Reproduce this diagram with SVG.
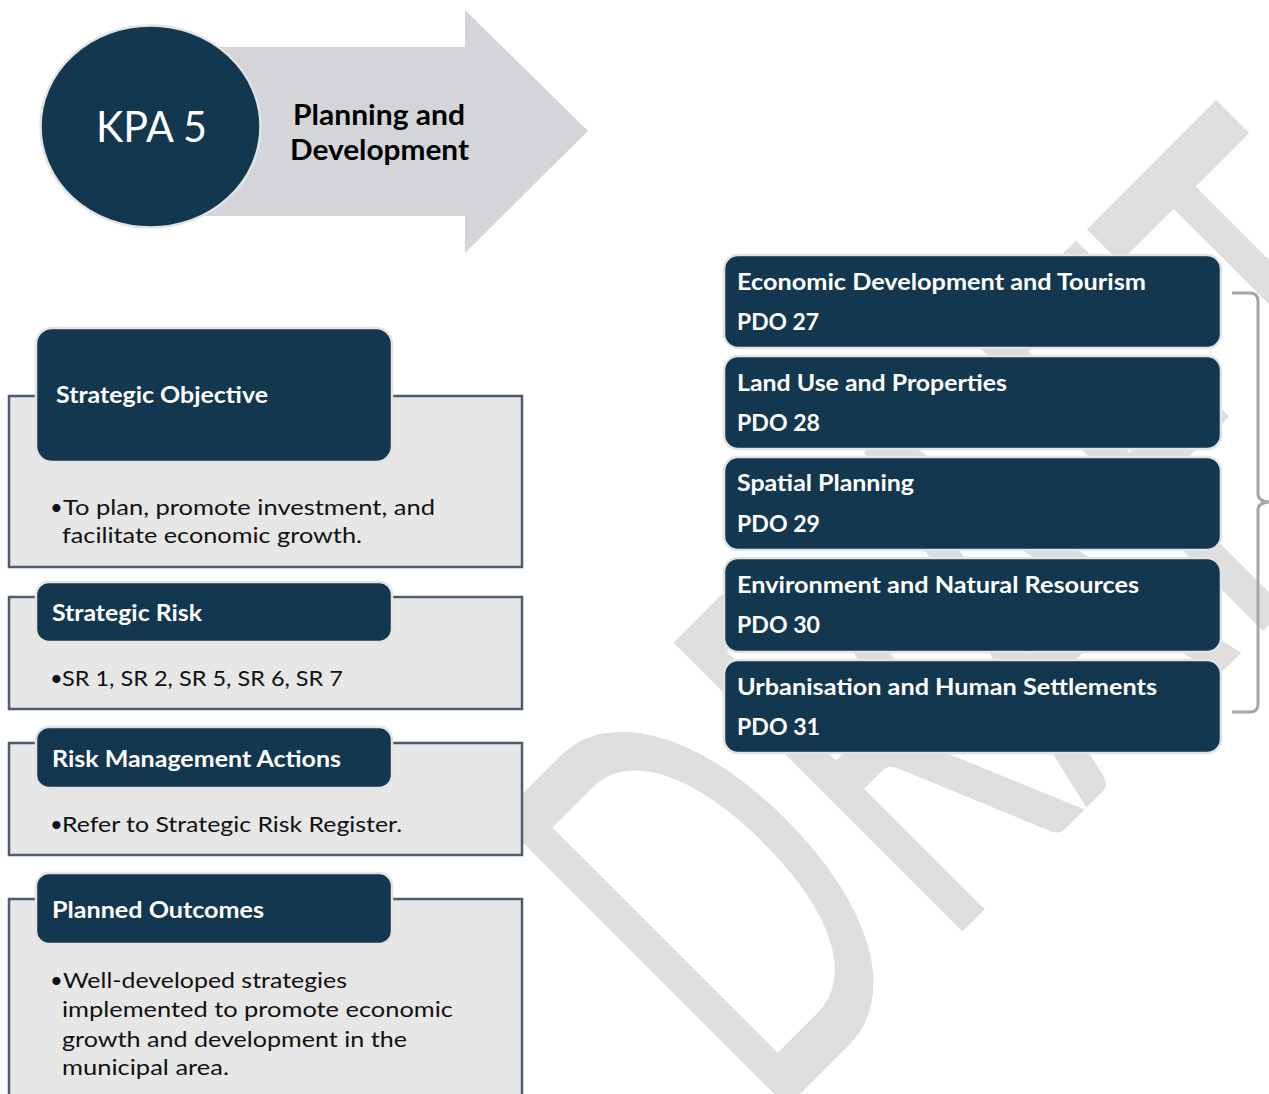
<svg xmlns="http://www.w3.org/2000/svg" width="1269" height="1094" viewBox="0 0 1269 1094">
<style>
  text { font-family: Lato, "Open Sans", "Liberation Sans", sans-serif; }
  .navy { fill: #12374f; stroke: #e3e3e3; stroke-width: 2.5; }
  .panel { fill: #e7e7e7; stroke: #4e5c72; stroke-width: 2.5; }
  .ttl { fill: #ffffff; font-size: 22px; font-weight: 700; }
  .body { fill: #111111; font-size: 22px; font-weight: 400; }
  .wm { fill: #dedede; font-size: 570px; font-weight: 400; }
</style>

<g id="watermark">
  <text class="wm" transform="translate(766,1128) rotate(-45)" x="0" y="0" textLength="1050" lengthAdjust="spacingAndGlyphs">DRAFT</text>
</g>

<g id="kpa-header">
  <path d="M150,47 H465 V10 L588,131 L465,253 V216 H150 Z" fill="#d4d5d9"/>
  <ellipse cx="150.5" cy="126.5" rx="110" ry="101" fill="#12374f" stroke="#e3e3e3" stroke-width="2.5"/>
  <text x="96" y="142" fill="#ffffff" font-size="42" textLength="111" lengthAdjust="spacingAndGlyphs">KPA 5</text>
  <text x="293" y="125" fill="#000000" font-size="28" font-weight="700" textLength="172" lengthAdjust="spacingAndGlyphs">Planning and</text>
  <text x="290" y="160" fill="#000000" font-size="28" font-weight="700" textLength="179" lengthAdjust="spacingAndGlyphs">Development</text>
</g>

<g id="strategic-objective">
  <rect class="panel" x="9" y="396" width="513" height="171"/>
  <rect class="navy" x="36" y="328" width="356" height="134" rx="16"/>
  <text class="ttl" x="56" y="403" textLength="212" lengthAdjust="spacingAndGlyphs">Strategic Objective</text>
  <text class="body" x="50" y="515">•</text>
  <text class="body" x="63" y="515" textLength="372" lengthAdjust="spacingAndGlyphs">To plan, promote investment, and</text>
  <text class="body" x="62" y="543" textLength="300" lengthAdjust="spacingAndGlyphs">facilitate economic growth.</text>
</g>

<g id="strategic-risk">
  <rect class="panel" x="9" y="597" width="513" height="112"/>
  <rect class="navy" x="36" y="582" width="356" height="60" rx="13"/>
  <text class="ttl" x="52" y="621" textLength="150" lengthAdjust="spacingAndGlyphs">Strategic Risk</text>
  <text class="body" x="50" y="686">•</text>
  <text class="body" x="62" y="686" textLength="281" lengthAdjust="spacingAndGlyphs">SR 1, SR 2, SR 5, SR 6, SR 7</text>
</g>

<g id="risk-management-actions">
  <rect class="panel" x="9" y="743" width="513" height="112"/>
  <rect class="navy" x="36" y="727" width="356" height="61" rx="13"/>
  <text class="ttl" x="52" y="767" textLength="289" lengthAdjust="spacingAndGlyphs">Risk Management Actions</text>
  <text class="body" x="50" y="832">•</text>
  <text class="body" x="62" y="832" textLength="340" lengthAdjust="spacingAndGlyphs">Refer to Strategic Risk Register.</text>
</g>

<g id="planned-outcomes">
  <rect class="panel" x="9" y="899" width="513" height="210"/>
  <rect class="navy" x="36" y="873" width="356" height="71" rx="13"/>
  <text class="ttl" x="52" y="918" textLength="212" lengthAdjust="spacingAndGlyphs">Planned Outcomes</text>
  <text class="body" x="50" y="988">•</text>
  <text class="body" x="63" y="988" textLength="284" lengthAdjust="spacingAndGlyphs">Well-developed strategies</text>
  <text class="body" x="62" y="1017" textLength="391" lengthAdjust="spacingAndGlyphs">implemented to promote economic</text>
  <text class="body" x="62" y="1047" textLength="345" lengthAdjust="spacingAndGlyphs">growth and development in the</text>
  <text class="body" x="62" y="1075" textLength="167" lengthAdjust="spacingAndGlyphs">municipal area.</text>
</g>

<g id="pdo-27">
  <rect class="navy" x="724" y="255" width="497" height="93" rx="14"/>
  <text class="ttl" x="737" y="290" textLength="409" lengthAdjust="spacingAndGlyphs">Economic Development and Tourism</text>
  <text class="ttl" x="737" y="330" textLength="82" lengthAdjust="spacingAndGlyphs">PDO 27</text>
</g>
<g id="pdo-28">
  <rect class="navy" x="724" y="356" width="497" height="93" rx="14"/>
  <text class="ttl" x="737" y="391" textLength="270" lengthAdjust="spacingAndGlyphs">Land Use and Properties</text>
  <text class="ttl" x="737" y="431" textLength="83" lengthAdjust="spacingAndGlyphs">PDO 28</text>
</g>
<g id="pdo-29">
  <rect class="navy" x="724" y="457" width="497" height="93" rx="14"/>
  <text class="ttl" x="737" y="491" textLength="177" lengthAdjust="spacingAndGlyphs">Spatial Planning</text>
  <text class="ttl" x="737" y="532" textLength="83" lengthAdjust="spacingAndGlyphs">PDO 29</text>
</g>
<g id="pdo-30">
  <rect class="navy" x="724" y="558" width="497" height="94" rx="14"/>
  <text class="ttl" x="737" y="593" textLength="402" lengthAdjust="spacingAndGlyphs">Environment and Natural Resources</text>
  <text class="ttl" x="737" y="633" textLength="83" lengthAdjust="spacingAndGlyphs">PDO 30</text>
</g>
<g id="pdo-31">
  <rect class="navy" x="724" y="660" width="497" height="93" rx="14"/>
  <text class="ttl" x="737" y="695" textLength="420" lengthAdjust="spacingAndGlyphs">Urbanisation and Human Settlements</text>
  <text class="ttl" x="737" y="735" textLength="83" lengthAdjust="spacingAndGlyphs">PDO 31</text>
</g>

<g id="connectors">
  <path d="M1232,293 H1250 Q1258,293 1258,301 V494 Q1258,502 1272,502 Q1258,502 1258,510 V704 Q1258,712 1250,712 H1232" fill="none" stroke="#a6a6a6" stroke-width="3"/>
</g>
</svg>
